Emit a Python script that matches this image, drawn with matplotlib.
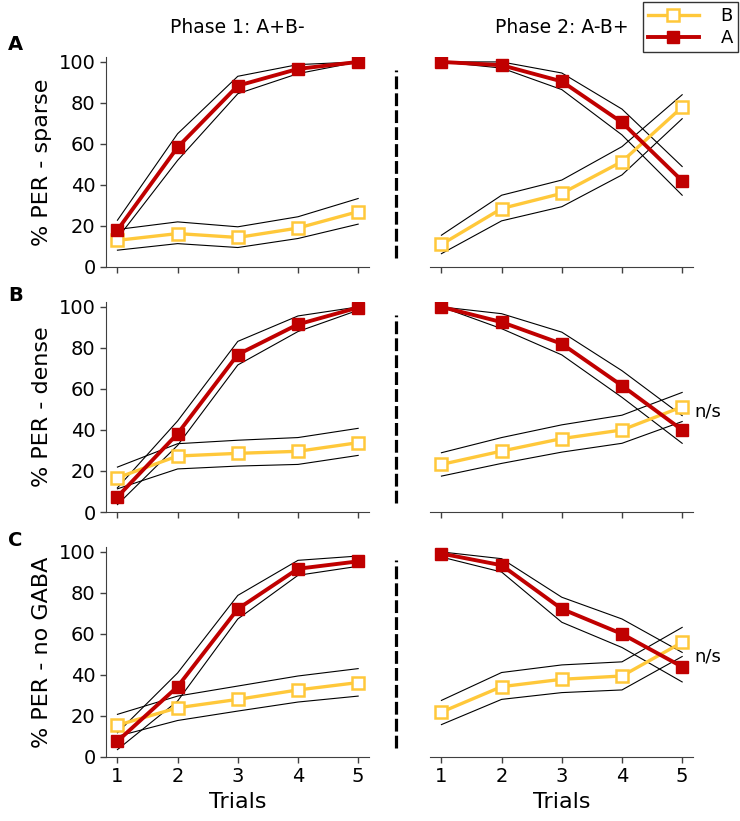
import matplotlib.pyplot as plt
import numpy as np

trials = [1, 2, 3, 4, 5]
row_labels = ['A', 'B', 'C']
ylabels = ['% PER - sparse', '% PER - dense', '% PER - no GABA']
phase_titles = ['Phase 1: A+B-', 'Phase 2: A-B+']

# mean, upper, lower for each odour; [phase1, phase2]
sparse_A = [[18, 58.4, 88.4, 96.6, 100], [100, 98.4, 90.5, 70.5, 42]]
sparse_A_hi = [[22.8, 65, 93, 98.7, 100], [100, 100, 94.6, 77, 49]]
sparse_A_lo = [[14, 52, 84.5, 94.3, 100], [100, 97, 86.5, 64.4, 35]]
sparse_B = [[13, 16.3, 14.4, 19, 27], [11, 28.5, 35.9, 51.4, 78]]
sparse_B_hi = [[18.3, 22, 19.6, 24.5, 33.4], [15.5, 35, 42.4, 58.7, 84]]
sparse_B_lo = [[8.2, 11.4, 9.5, 13.9, 20.9], [6.5, 22.5, 29.4, 44.9, 72.3]]

dense_A = [[7.4, 38.2, 76.8, 91.5, 99.7], [100, 92.6, 82, 61.6, 40]]
dense_A_hi = [[11.8, 44.4, 83.2, 95.6, 100], [100, 96.7, 87.7, 68.9, 47]]
dense_A_lo = [[3.6, 32.5, 71.7, 88, 98.4], [100, 89.4, 76.6, 55.9, 33.5]]
dense_B = [[16.7, 27.3, 28.6, 29.6, 33.8], [23.2, 29.7, 35.8, 40, 51.3]]
dense_B_hi = [[21.9, 33.3, 35, 36.3, 40.8], [28.9, 36.3, 42.5, 47.2, 58.3]]
dense_B_lo = [[11.3, 21, 22.4, 23.2, 27.6], [17.5, 23.7, 29.2, 33.5, 44.1]]

nogaba_A = [[7.7, 34.3, 72.2, 91.8, 95.4], [99.2, 93.5, 72.2, 60, 44]]
nogaba_A_hi = [[11.8, 41, 78.8, 95.9, 98], [100, 96.7, 77.9, 67.3, 51]]
nogaba_A_lo = [[3.6, 27.3, 67.3, 88.6, 93], [97.5, 90.2, 65.7, 53.4, 36.6]]
nogaba_B = [[15.5, 24, 28.1, 32.7, 36.3], [21.9, 34.3, 37.9, 39.5, 55.9]]
nogaba_B_hi = [[20.8, 29.7, 34.6, 39.5, 43.1], [27.6, 41.2, 44.9, 46.4, 63.2]]
nogaba_B_lo = [[10.1, 17.8, 22.4, 26.8, 29.7], [15.8, 28.1, 31.4, 32.7, 49]]

ns_rows = [1, 2]  # rows with n/s annotation on phase 2

rows = [
    (sparse_A, sparse_A_hi, sparse_A_lo, sparse_B, sparse_B_hi, sparse_B_lo),
    (dense_A, dense_A_hi, dense_A_lo, dense_B, dense_B_hi, dense_B_lo),
    (nogaba_A, nogaba_A_hi, nogaba_A_lo, nogaba_B, nogaba_B_hi, nogaba_B_lo),
]

red = '#C00000'
yellow = '#FFC83A'
spine_col = '#404040'

fig = plt.figure(figsize=(7.4, 8.21), dpi=100)
W, H = 740, 821
bottoms = [267, 512, 757]
ax_h = 210 / H
lefts = [106, 430]
ax_w = 263 / W

for r in range(3):
    A, A_hi, A_lo, B, B_hi, B_lo = rows[r]
    for c in range(2):
        ax = fig.add_axes([lefts[c] / W, 1 - bottoms[r] / H, ax_w, ax_h])
        for s in [B_hi, B_lo, A_hi, A_lo]:
            ax.plot(trials, s[c], color='black', lw=0.8, zorder=2)
        ax.plot(trials, B[c], color=yellow, lw=2.4, marker='s', ms=8,
                mfc='white', mec=yellow, mew=1.8, zorder=3, label='B')
        ax.plot(trials, A[c], color=red, lw=2.8, marker='s', ms=8,
                mfc=red, mec=red, zorder=4, label='A')
        ax.set_xlim(0.81, 5.18)
        ax.set_ylim(0, 102.4)
        ax.spines['top'].set_visible(False)
        ax.spines['right'].set_visible(False)
        ax.spines['bottom'].set_color(spine_col)
        ax.spines['left'].set_color(spine_col)
        ax.set_xticks(trials)
        ax.tick_params(axis='both', direction='out', length=4, width=1,
                       color=spine_col, labelsize=14)
        if r < 2:
            ax.set_xticklabels([])
        else:
            ax.set_xlabel('Trials', fontsize=16, labelpad=4)
        if c == 0:
            ax.set_yticks([0, 20, 40, 60, 80, 100])
            ax.set_ylabel(ylabels[r], fontsize=16, labelpad=5)
            # dashed separator between phases
            ax.plot([5.63, 5.63], [4.4, 96.1], color='black', lw=2.3,
                    dashes=(4, 1.3), clip_on=False)
        else:
            ax.spines['left'].set_visible(False)
            ax.set_yticks([])
            if r in ns_rows:
                ax.text(5.2, 49, 'n/s', fontsize=13, va='center', ha='left')
        if r == 0:
            ax.set_title(phase_titles[c], fontsize=13.5, pad=17)
        if r == 0 and c == 1:
            handles, labels = ax.get_legend_handles_labels()
    fig.text(8 / W, 1 - (45 + 250 * r - 5 * (r == 2)) / H, row_labels[r],
             fontsize=14, fontweight='bold', va='center', ha='left')

leg = fig.legend(handles, labels, loc='upper right', bbox_to_anchor=(1.0, 1.0),
                 fontsize=13, frameon=True, fancybox=False, edgecolor='black',
                 handlelength=2.8, handletextpad=1.2, borderpad=0.3,
                 labelspacing=0.2, borderaxespad=0.1)
leg.get_frame().set_linewidth(1)

fig.savefig('out.png', dpi=100)
